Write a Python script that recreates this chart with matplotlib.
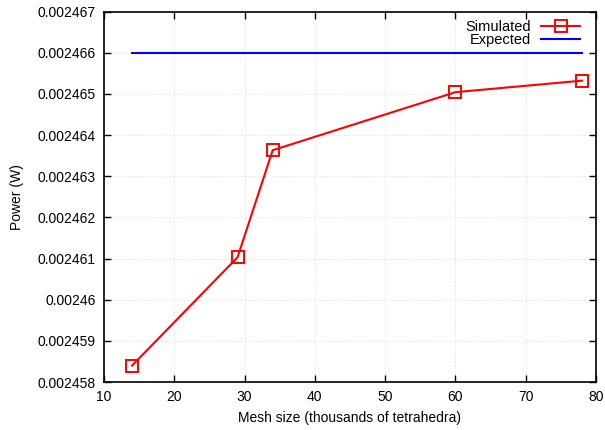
import matplotlib.pyplot as plt

plt.rcParams['font.family'] = ['Liberation Sans', 'DejaVu Sans']

mesh_size = [14, 29, 34, 60, 78]
simulated = [0.0024584, 0.00246103, 0.00246363, 0.00246504, 0.00246532]
expected_x = [14, 78]
expected = [0.002466, 0.002466]

yticks = [0.002458, 0.002459, 0.00246, 0.002461, 0.002462, 0.002463,
          0.002464, 0.002465, 0.002466, 0.002467]
ylabels = ['0.002458', '0.002459', '0.00246', '0.002461', '0.002462', '0.002463',
           '0.002464', '0.002465', '0.002466', '0.002467']

fig = plt.figure(figsize=(6.05, 4.3), dpi=100)
ax = fig.add_axes([104 / 605, 1 - 382 / 430, (596 - 104) / 605, (382 - 11.5) / 430])

ax.plot(mesh_size, simulated, color='#ff0000', lw=1.5, marker='s', ms=9,
        mfc='none', mec='#ff0000', mew=1.4, label='Simulated')
ax.plot(expected_x, expected, color='#0000ff', lw=1.5, label='Expected')

ax.set_xlim(10, 80)
ax.set_ylim(0.002458, 0.002467)
ax.set_xticks(range(10, 81, 10))
ax.set_yticks(yticks)
ax.set_yticklabels(ylabels)
ax.tick_params(direction='in', top=True, right=True, length=5, width=1,
               labelsize=10, pad=6)
ax.grid(True, color='#e0e0e0', ls=':', lw=0.7)
for s in ax.spines.values():
    s.set_linewidth(1.2)

ax.set_xlabel('Mesh size (thousands of tetrahedra)', fontsize=10, labelpad=5)
ax.set_ylabel('Power (W)', fontsize=10, labelpad=10)

ax.legend(loc='upper right', bbox_to_anchor=(0.968, 0.978), frameon=False,
          markerfirst=False, fontsize=10.5, handlelength=2.7, labelspacing=-0.05,
          borderaxespad=0, borderpad=0, handletextpad=0.65)

fig.savefig('out.png', dpi=100)
